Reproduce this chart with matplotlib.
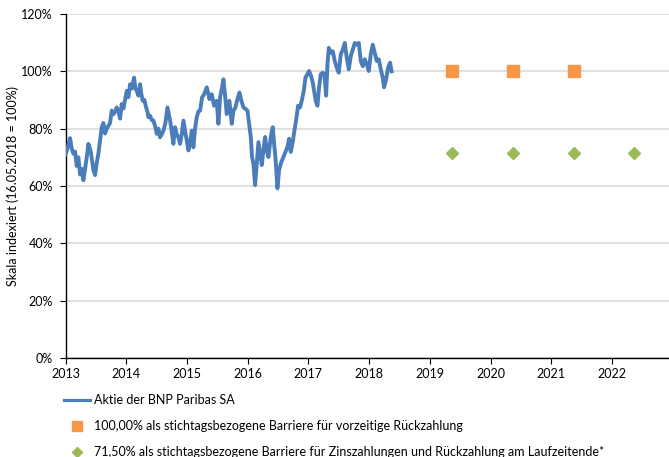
import matplotlib
matplotlib.use('Agg')
import matplotlib.pyplot as plt
from matplotlib.lines import Line2D

# BNP Paribas share, indexed (16.05.2018 = 100%)
stock_years = [
    2013.000, 2013.030, 2013.074, 2013.102, 2013.129, 2013.157, 2013.184, 2013.211,
    2013.239, 2013.266, 2013.294, 2013.321, 2013.349, 2013.376, 2013.415, 2013.459,
    2013.486, 2013.513, 2013.541, 2013.568, 2013.596, 2013.623, 2013.651, 2013.678,
    2013.706, 2013.733, 2013.761, 2013.788, 2013.815, 2013.843, 2013.870, 2013.898,
    2013.925, 2013.953, 2013.980, 2014.008, 2014.035, 2014.063, 2014.090, 2014.129,
    2014.150, 2014.172, 2014.200, 2014.227, 2014.249, 2014.271, 2014.299, 2014.326,
    2014.348, 2014.365, 2014.392, 2014.420, 2014.447, 2014.474, 2014.502, 2014.529,
    2014.557, 2014.584, 2014.612, 2014.645, 2014.678, 2014.700, 2014.722, 2014.749,
    2014.776, 2014.804, 2014.831, 2014.859, 2014.886, 2014.914, 2014.941, 2014.969,
    2014.996, 2015.024, 2015.051, 2015.079, 2015.106, 2015.133, 2015.161, 2015.188,
    2015.216, 2015.249, 2015.282, 2015.326, 2015.370, 2015.408, 2015.446, 2015.490,
    2015.518, 2015.545, 2015.578, 2015.600, 2015.628, 2015.655, 2015.699, 2015.738,
    2015.765, 2015.798, 2015.831, 2015.864, 2015.897, 2015.930, 2015.963, 2015.996,
    2016.023, 2016.051, 2016.072, 2016.094, 2016.122, 2016.149, 2016.177, 2016.204,
    2016.232, 2016.259, 2016.287, 2016.314, 2016.342, 2016.380, 2016.413, 2016.435,
    2016.457, 2016.490, 2016.517, 2016.545, 2016.589, 2016.622, 2016.655, 2016.682,
    2016.710, 2016.742, 2016.770, 2016.797, 2016.830, 2016.863, 2016.896, 2016.924,
    2016.951, 2016.984, 2017.012, 2017.044, 2017.072, 2017.094, 2017.121, 2017.149,
    2017.176, 2017.204, 2017.237, 2017.264, 2017.292, 2017.314, 2017.336, 2017.368,
    2017.401, 2017.434, 2017.467, 2017.500, 2017.533, 2017.566, 2017.599, 2017.632,
    2017.665, 2017.698, 2017.731, 2017.764, 2017.797, 2017.830, 2017.863, 2017.896,
    2017.929, 2017.962, 2017.995, 2018.027, 2018.060, 2018.093, 2018.126, 2018.159,
    2018.192, 2018.225, 2018.247, 2018.280, 2018.313, 2018.346, 2018.370,
]
stock_values = [
    71.0, 73.0, 76.7, 73.0, 71.3, 72.0, 67.0, 70.0,
    64.0, 66.0, 62.0, 66.0, 70.0, 74.7, 72.0, 65.5,
    63.8, 68.0, 71.4, 76.0, 80.5, 82.0, 78.3, 80.0,
    81.0, 82.0, 86.3, 85.0, 86.0, 87.4, 86.0, 83.5,
    88.6, 87.0, 90.0, 93.2, 91.0, 95.5, 94.0, 97.8,
    94.0, 93.2, 91.5, 95.5, 92.0, 89.7, 90.0, 87.4,
    86.0, 84.0, 84.5, 83.0, 82.8, 81.0, 78.2, 80.0,
    77.0, 78.0, 79.3, 82.0, 87.4, 85.0, 82.8, 79.0,
    74.7, 80.5, 78.0, 77.0, 74.7, 78.0, 82.8, 79.3,
    76.0, 72.4, 75.0, 79.3, 73.5, 80.0, 84.0, 86.0,
    86.3, 90.9, 92.0, 94.4, 90.3, 92.0, 88.0, 89.7,
    81.7, 90.9, 94.4, 97.2, 91.5, 85.1, 89.7, 81.7,
    86.3, 87.4, 90.3, 92.6, 89.7, 87.4, 86.9, 86.3,
    81.7, 77.1, 70.1, 67.8, 60.3, 67.8, 75.3, 71.3,
    67.3, 72.4, 77.1, 72.4, 70.1, 77.1, 80.5, 74.7,
    70.1, 59.2, 65.5, 67.8, 70.1, 71.9, 73.6, 76.5,
    71.9, 75.3, 79.4, 82.8, 88.0, 87.4, 90.3, 93.2,
    97.8, 99.0, 100.1, 98.4, 96.1, 93.2, 89.7, 88.0,
    94.4, 99.0, 99.5, 99.0, 91.5, 102.4, 108.2, 106.5,
    107.0, 103.6, 101.3, 99.5, 105.9, 107.6, 109.9, 104.7,
    100.7, 105.3, 107.6, 109.9, 109.3, 109.9, 103.6, 101.8,
    104.2, 102.4, 100.1, 105.9, 109.3, 106.5, 103.6, 104.2,
    100.7, 97.8, 94.4, 97.2, 101.3, 103.0, 100.0,
]

# observation dates (16.05. of each year) and barriers
early_years = [2019.37, 2020.37, 2021.37]
early_barrier = [100.0, 100.0, 100.0]
coupon_years = [2019.37, 2020.37, 2021.37, 2022.37]
coupon_barrier = [71.5, 71.5, 71.5, 71.5]

year_ticks = list(range(2013, 2023))
pct_ticks = [0, 20, 40, 60, 80, 100, 120]

labels = [
    'Aktie der BNP Paribas SA',
    '100,00% als stichtagsbezogene Barriere für vorzeitige Rückzahlung',
    '71,50% als stichtagsbezogene Barriere für Zinszahlungen und Rückzahlung am Laufzeitende*',
]

plt.rcParams['font.family'] = ['Lato', 'DejaVu Sans']
plt.rcParams['font.size'] = 9

BLUE = '#4a7dba'
ORANGE = '#f79646'
GREEN = '#9bbb59'

fig = plt.figure(figsize=(6.69, 4.57), dpi=100)
ax = fig.add_axes([0.098, 0.2166, 0.902, 0.7528])

ax.plot(stock_years, stock_values, color=BLUE, lw=2.8, solid_joinstyle='round', zorder=3)
ax.plot(early_years, early_barrier, ls='none', marker='s', ms=8.5, color=ORANGE, zorder=4)
ax.plot(coupon_years, coupon_barrier, ls='none', marker='D', ms=6.2, color=GREEN, zorder=4)

ax.set_xlim(2013, 2022.94)
ax.set_ylim(0, 120)
ax.set_xticks(year_ticks)
ax.set_xticklabels([str(y) for y in year_ticks])
ax.set_yticks(pct_ticks)
ax.set_yticklabels([f'{p}%' for p in pct_ticks])

ax.grid(axis='y', color='#d9d9d9', lw=1.1, zorder=0)
ax.set_axisbelow(True)
for s in ('top', 'right'):
    ax.spines[s].set_visible(False)
for s in ('left', 'bottom'):
    ax.spines[s].set_color('black')
    ax.spines[s].set_linewidth(1.0)
ax.tick_params(axis='both', direction='out', length=4, width=0.8, colors='black')
ax.tick_params(axis='y', pad=5)
ax.tick_params(axis='x', pad=3)
ax.set_ylabel('Skala indexiert (16.05.2018 = 100%)', labelpad=2)

handles = [
    Line2D([], [], color=BLUE, lw=2.3),
    Line2D([], [], ls='none', marker='s', ms=6.5, color=ORANGE),
    Line2D([], [], ls='none', marker='D', ms=4.8, color=GREEN),
]
fig.legend(handles, labels, loc='upper left', bbox_to_anchor=(0.095, 0.137),
           frameon=False, handlelength=2.1, handletextpad=0.3, labelspacing=1.12,
           borderaxespad=0, borderpad=0)

fig.savefig('out.png', dpi=100)
